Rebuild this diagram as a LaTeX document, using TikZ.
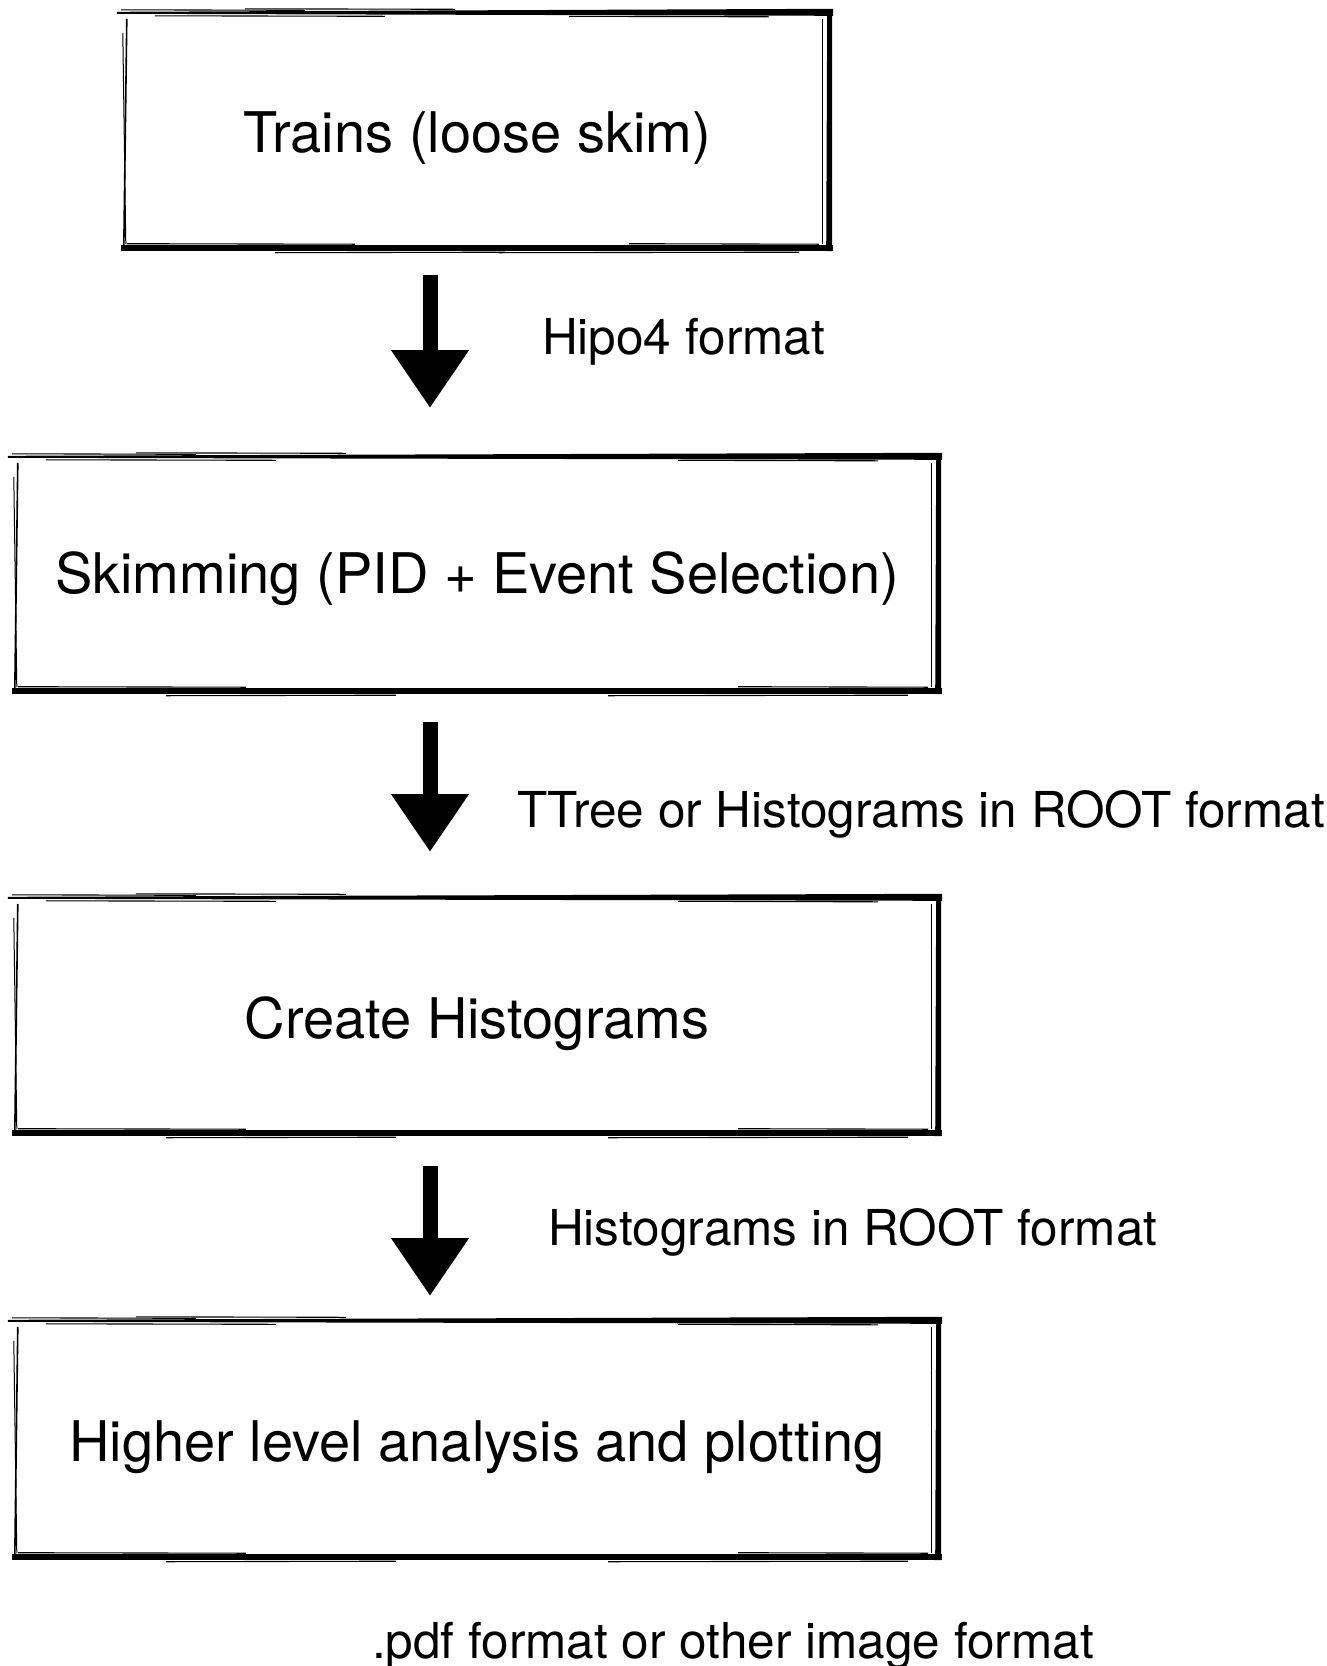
\documentclass[tikz,border=0pt]{standalone}
\usepackage{fontspec}
\setmainfont{TeX Gyre Heros}
\usetikzlibrary{arrows.meta,calc}
\tikzset{
  boxnode/.style={draw=none,inner sep=0pt},
  boxtext/.style={inner sep=0pt,font=\fontsize{56}{60}\selectfont},
  lbl/.style={inner sep=0pt,anchor=west,font=\fontsize{49.5}{54}\selectfont},
  bigarrow/.style={line width=15pt,-{Triangle[width=74pt,length=58pt]}},
  wisp/.style={line width=1.1pt},
}
\newcommand\skbox[1]{%
  % top edge: tapered, thin at left, thick at right
  \fill ($(#1.north west)+(-8,-1)$) -- ($(#1.north east)+(4,-4)$) -- ($(#1.north east)+(4,3)$) -- ($(#1.north west)+(-8,1)$) -- cycle;
  \draw[wisp] ($(#1.north west)+(-4,-3)$) -- ($(#1.north west)+(180,-2.5)$);
  \draw[wisp] ($(#1.north west)+(120,-4)$) -- ($(#1.north west)+(330,-3.5)$);
  \draw[wisp] ($(#1.north west)+(30,3)$) -- ($(#1.north west)+(260,3.5)$);
  \draw[wisp] ($(#1.north east)+(-260,3.5)$) -- ($(#1.north east)+(-60,4)$);
  % bottom edge
  \fill ($(#1.south west)+(-4,-3)$) -- ($(#1.south east)+(4,-3)$) -- ($(#1.south east)+(4,3)$) -- ($(#1.south west)+(-4,3)$) -- cycle;
  \draw[wisp] ($(#1.south west)+(2,-4.5)$) -- ($(#1.south west)+(230,-4)$);
  \draw[wisp] ($(#1.south west)+(150,4.5)$) -- ($(#1.south west)+(380,4)$);
  \draw[wisp] ($(#1.south east)+(-330,4.5)$) -- ($(#1.south east)+(-30,4)$);
  \draw[wisp] ($(#1.south east)+(-200,-4.5)$) -- ($(#1.south east)+(-10,-4)$);
  % left edge: thin double
  \draw[line width=1.6pt] ($(#1.north west)+(2,6)$) -- ($(#1.south west)+(-1,0)$);
  \draw[line width=1pt] ($(#1.north west)+(-2,20)$) -- ($(#1.south west)+(1,-4)$);
  % right edge: thick double
  \fill ($(#1.north east)+(-2,-2)$) -- ($(#1.north east)+(3,-2)$) -- ($(#1.south east)+(3,3)$) -- ($(#1.south east)+(-3,3)$) -- cycle;
  \draw[line width=1.4pt] ($(#1.north east)+(-7,6)$) -- ($(#1.south east)+(-7,-4)$);
}
\begin{document}
\begin{tikzpicture}[x=1pt,y=-1pt]
\useasboundingbox (0,0) rectangle (1326,1666);
\node[boxnode,minimum width=704pt,minimum height=235pt] (b1) at (477,130.5) {};
\node[boxnode,minimum width=922pt,minimum height=234pt] (b2) at (477,574) {};
\node[boxnode,minimum width=922pt,minimum height=235pt] (b3) at (477,1015.5) {};
\node[boxnode,minimum width=922pt,minimum height=236pt] (b4) at (477,1439) {};
\skbox{b1}\skbox{b2}\skbox{b3}\skbox{b4}
\node[boxtext] (t1) at ([yshift=-7.5pt]b1.center) {Trains (loose skim)};
\node[boxtext] (t2) at ([yshift=-5pt]b2.center) {Skimming (PID + Event Selection)};
\node[boxtext] (t3) at ([yshift=-8pt]b3.center) {Create Histograms};
\node[boxtext] (t4) at ([yshift=-8pt]b4.center) {Higher level analysis and plotting};
\coordinate (a1s) at (430,275); \coordinate (a1e) at (430,408);
\coordinate (a2s) at (430,722); \coordinate (a2e) at (430,852);
\coordinate (a3s) at (430,1166); \coordinate (a3e) at (430,1296);
\draw[bigarrow] (a1s) -- (a1e);
\draw[bigarrow] (a2s) -- (a2e);
\draw[bigarrow] (a3s) -- (a3e);
\node[lbl] (l1) at (542,342) {Hipo4 format};
\node[lbl] (l2) at (517,814) {TTree or Histograms in ROOT format};
\node[lbl] (l3) at (548,1232) {Histograms in ROOT format};
\node[lbl,anchor=center] (l4) at (733,1646) {.pdf format or other image format};
\end{tikzpicture}
\end{document}
